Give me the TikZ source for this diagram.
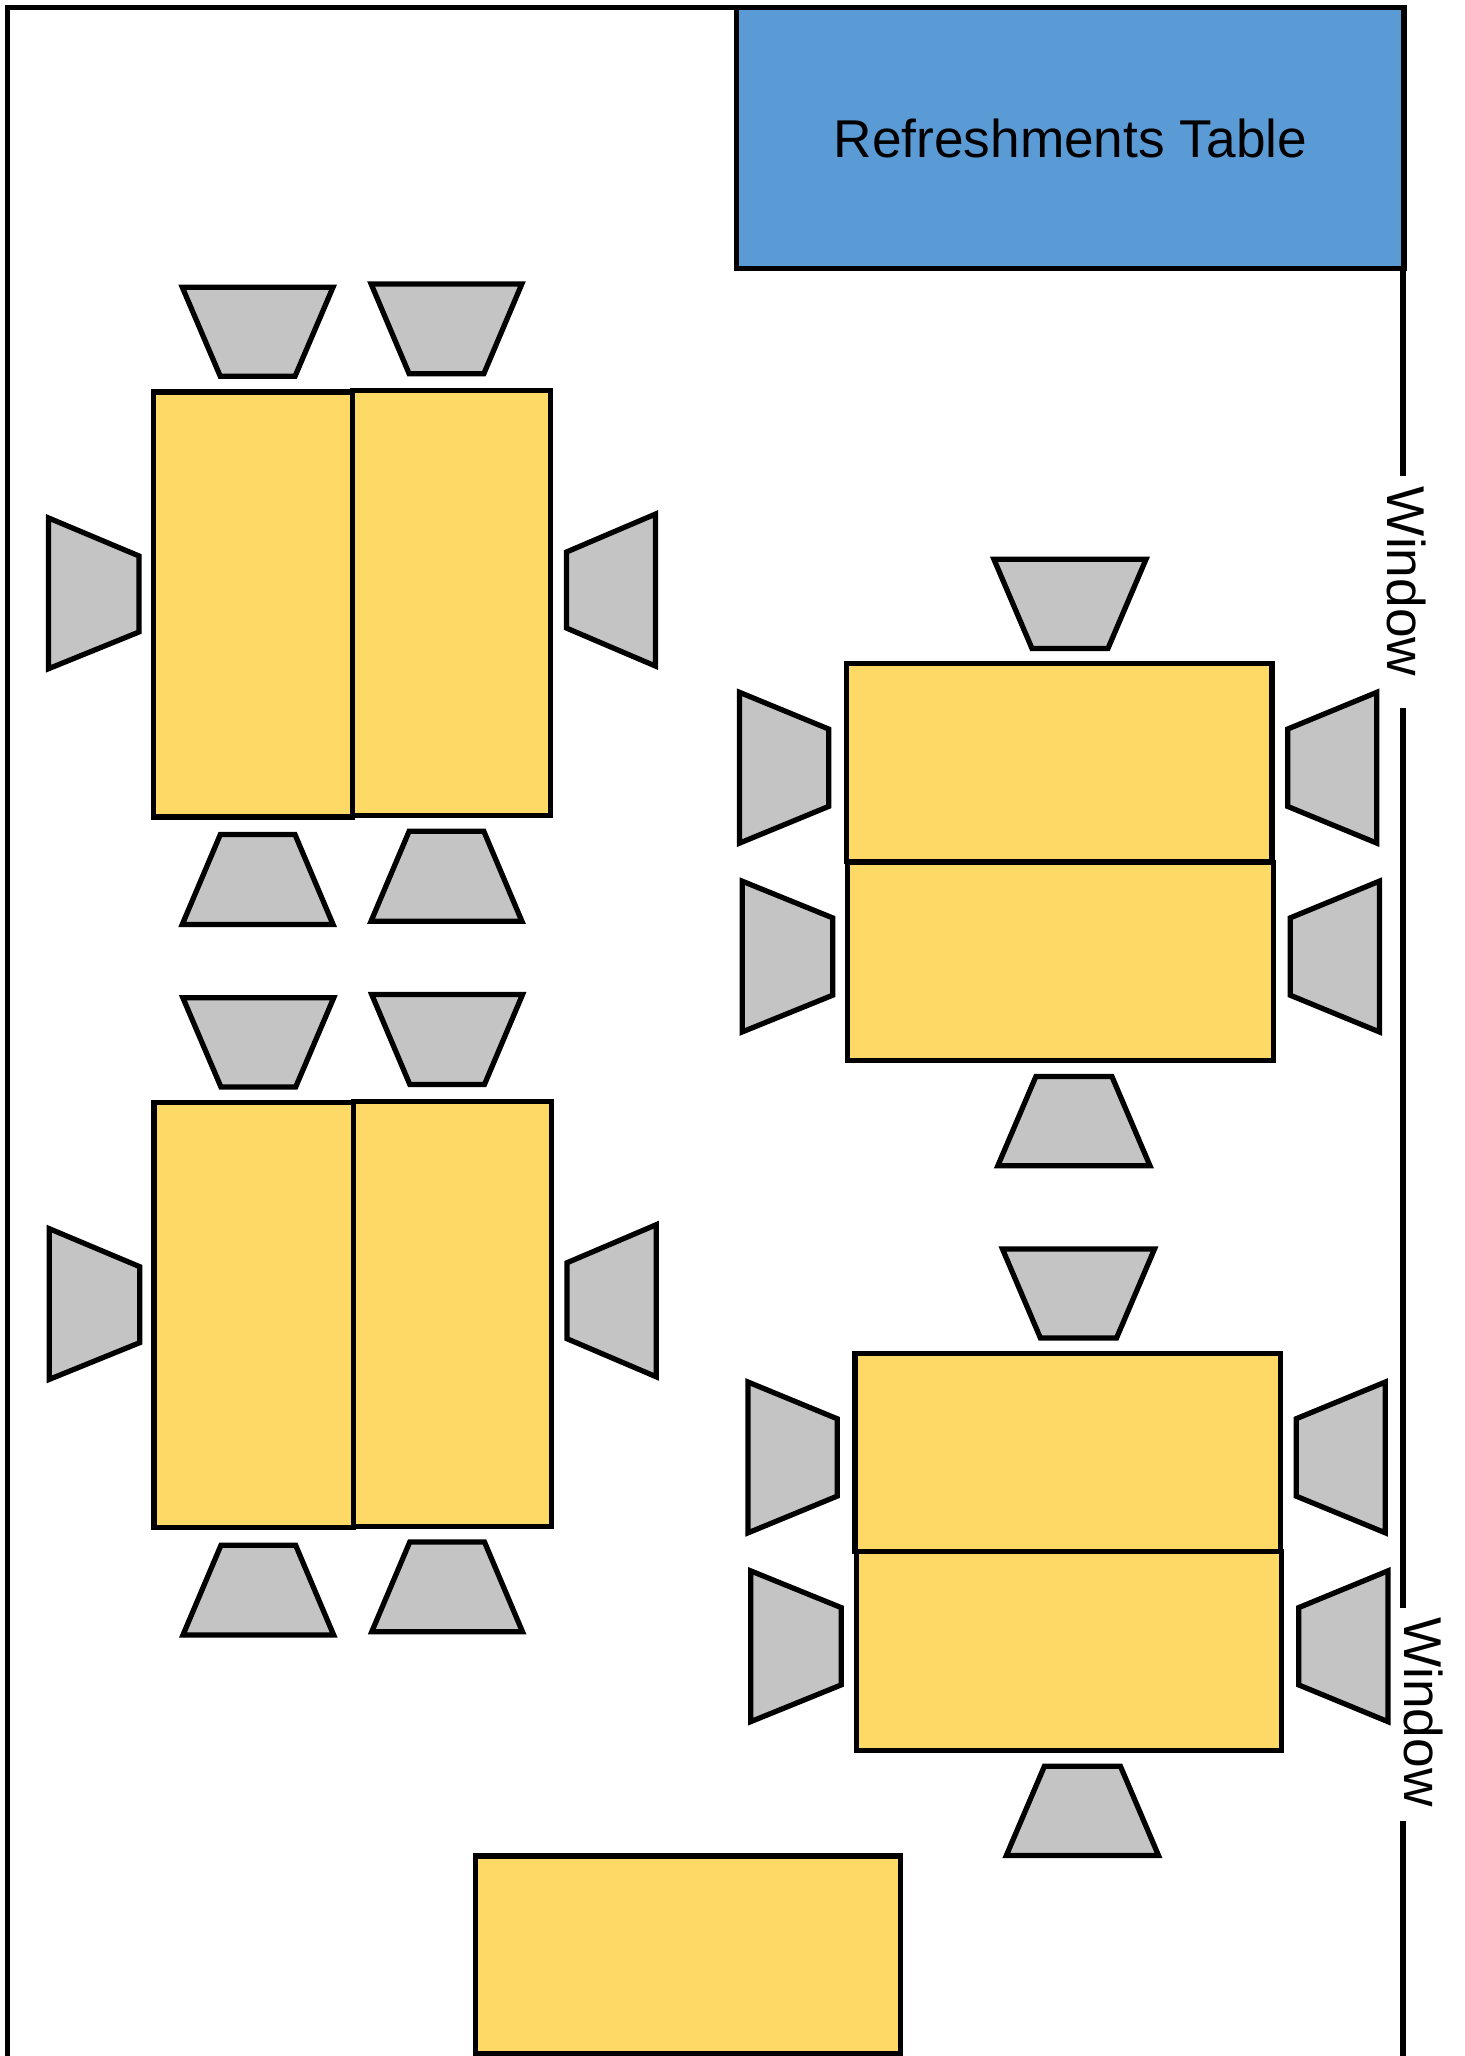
\documentclass[tikz,border=0pt]{standalone}
\usepackage{fontspec}
\setmainfont{Liberation Sans}
\definecolor{tableblue}{HTML}{5B9BD5}
\definecolor{tableyellow}{HTML}{FFD966}
\definecolor{chairgray}{HTML}{C4C4C4}
\tikzset{
  wall/.style={draw=black,line width=4pt},
  deskbox/.style={draw=black,fill=tableyellow,line width=4pt},
  chair/.style={draw=black,fill=chairgray,line width=4pt},
  label/.style={font=\fontsize{40.6}{48}\selectfont,text=black,inner sep=0pt}
}
\newcommand{\leftgroup}{%
  \draw[deskbox] (117,299) rectangle (269,623);
  \draw[deskbox] (269,298) rectangle (420,622);
  \draw[chair] (139,219) -- (254,219) -- (225,287) -- (168,287) -- cycle;
  \draw[chair] (283,216.5) -- (398,216.5) -- (369,285) -- (312,285) -- cycle;
  \draw[chair] (139,705) -- (254,705) -- (225,636.5) -- (168,636.5) -- cycle;
  \draw[chair] (283,702.5) -- (398,702.5) -- (369,634) -- (312,634) -- cycle;
  \draw[chair] (37,395) -- (37,510) -- (106,482) -- (106,424) -- cycle;
  \draw[chair] (500,392) -- (500,508) -- (432,479) -- (432,421) -- cycle;
}
\newcommand{\rightgroup}{%
  \draw[deskbox] (645.5,506) rectangle (970,657);
  \draw[deskbox] (646.5,657.5) rectangle (971,809);
  \draw[chair] (758,426.5) -- (874,426.5) -- (845,494.5) -- (787,494.5) -- cycle;
  \draw[chair] (761,889) -- (877,889) -- (848,821) -- (790,821) -- cycle;
  \draw[chair] (564,528) -- (564,643) -- (632,615) -- (632,556) -- cycle;
  \draw[chair] (566,672) -- (566,787) -- (635,759) -- (635,700) -- cycle;
  \draw[chair] (1050,528) -- (1050,643) -- (982,615) -- (982,556) -- cycle;
  \draw[chair] (1052,672) -- (1052,787) -- (984,759) -- (984,700) -- cycle;
}
\begin{document}
\begin{tikzpicture}[x=1pt,y=-1pt]
  \useasboundingbox (0,0) rectangle (1117,1568);
  % room walls
  \draw[wall] (5.5,1568) -- (5.5,6) -- (562,6);
  \draw[wall] (1070,205) -- (1070,363);
  \draw[wall] (1070,540) -- (1070,1226);
  \draw[wall] (1070,1389) -- (1070,1568);
  % refreshments
  \node[draw=black,fill=tableblue,line width=4pt,minimum width=509pt,minimum height=199pt,inner sep=0pt,label] (refresh) at (816.3,105.3) {Refreshments Table};
  % seating groups
  \leftgroup
  \begin{scope}[shift={(0.5,542)}]\leftgroup\end{scope}
  \rightgroup
  \begin{scope}[shift={(6.5,526)}]\rightgroup\end{scope}
  % lone table
  \draw[deskbox] (362.5,1415.5) rectangle (687,1566);
  % window labels
  \node[label,rotate=-90] (win1) at (1073,443.5) {Window};
  \node[label,rotate=-90] (win2) at (1086,1305.5) {Window};
\end{tikzpicture}
\end{document}
